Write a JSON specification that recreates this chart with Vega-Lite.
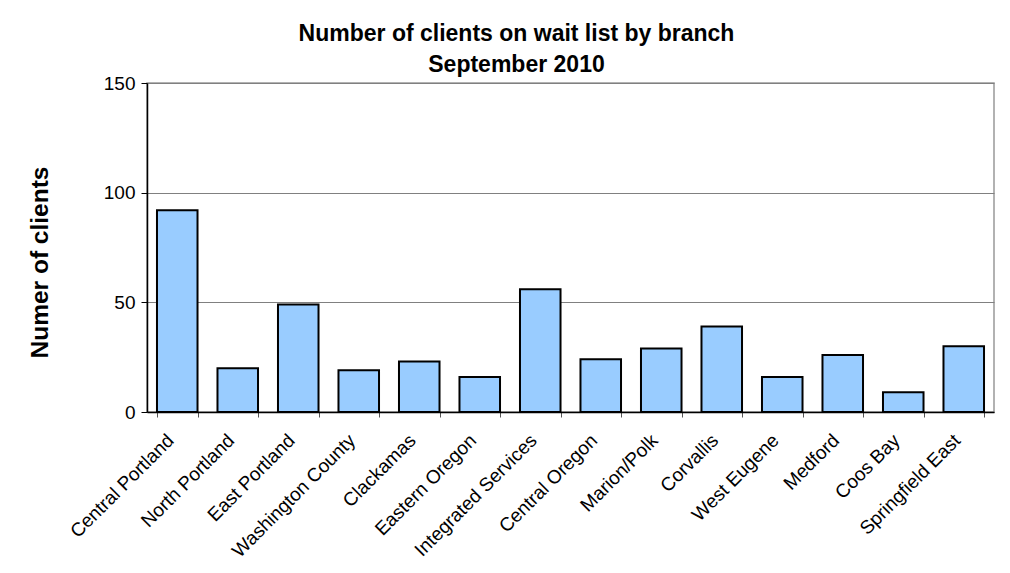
{
  "$schema": "https://vega.github.io/schema/vega-lite/v6.json",
  "width": 847,
  "height": 329,
  "autosize": {"type": "none"},
  "padding": {"left": 147, "top": 83, "right": 16, "bottom": 161},
  "background": "white",
  "title": {
    "text": ["Number of clients on wait list by branch", "September 2010"],
    "font": "Liberation Sans",
    "fontSize": 23,
    "fontWeight": "bold",
    "color": "black",
    "lineHeight": 31,
    "anchor": "middle",
    "frame": "group",
    "dx": -54,
    "offset": -3
  },
  "data": {
    "values": [
      {"branch": "Central Portland", "clients": 92},
      {"branch": "North Portland", "clients": 20},
      {"branch": "East Portland", "clients": 49},
      {"branch": "Washington County", "clients": 19},
      {"branch": "Clackamas", "clients": 23},
      {"branch": "Eastern Oregon", "clients": 16},
      {"branch": "Integrated Services", "clients": 56},
      {"branch": "Central Oregon", "clients": 24},
      {"branch": "Marion/Polk", "clients": 29},
      {"branch": "Corvallis", "clients": 39},
      {"branch": "West Eugene", "clients": 16},
      {"branch": "Medford", "clients": 26},
      {"branch": "Coos Bay", "clients": 9},
      {"branch": "Springfield East", "clients": 30}
    ]
  },
  "mark": {"type": "bar", "fill": "#99CCFF", "stroke": "black", "strokeWidth": 2},
  "encoding": {
    "x": {
      "field": "branch",
      "type": "nominal",
      "sort": null,
      "scale": {"paddingInner": 0.33, "paddingOuter": 0.165},
      "axis": {
        "title": null,
        "labelAngle": -45,
        "labelAlign": "right",
        "labelBaseline": "middle",
        "labelFont": "Liberation Sans",
        "labelFontSize": 19,
        "labelColor": "black",
        "labelPadding": 20,
        "labelOffset": -7,
        "labelOverlap": false,
        "tickBand": "extent",
        "tickSize": 5,
        "tickColor": "#555555",
        "domainColor": "black",
        "domainWidth": 1.5,
        "grid": false
      }
    },
    "y": {
      "field": "clients",
      "type": "quantitative",
      "scale": {"domain": [0, 150], "nice": false},
      "axis": {
        "values": [0, 50, 100, 150],
        "title": "Numer of clients",
        "titleFont": "Liberation Sans",
        "titleFontSize": 24.5,
        "titleFontWeight": "bold",
        "titleColor": "black",
        "titleAngle": -90,
        "titleAlign": "center",
        "titleBaseline": "middle",
        "titleX": -107,
        "titleY": 179,
        "labelFont": "Liberation Sans",
        "labelFontSize": 19,
        "labelColor": "black",
        "labelPadding": 6,
        "tickSize": 6,
        "tickColor": "black",
        "domainColor": "black",
        "domainWidth": 1.5,
        "grid": true,
        "gridColor": "#808080",
        "gridWidth": 1
      }
    }
  },
  "config": {
    "view": {"stroke": "#999999", "strokeWidth": 1.5}
  }
}
